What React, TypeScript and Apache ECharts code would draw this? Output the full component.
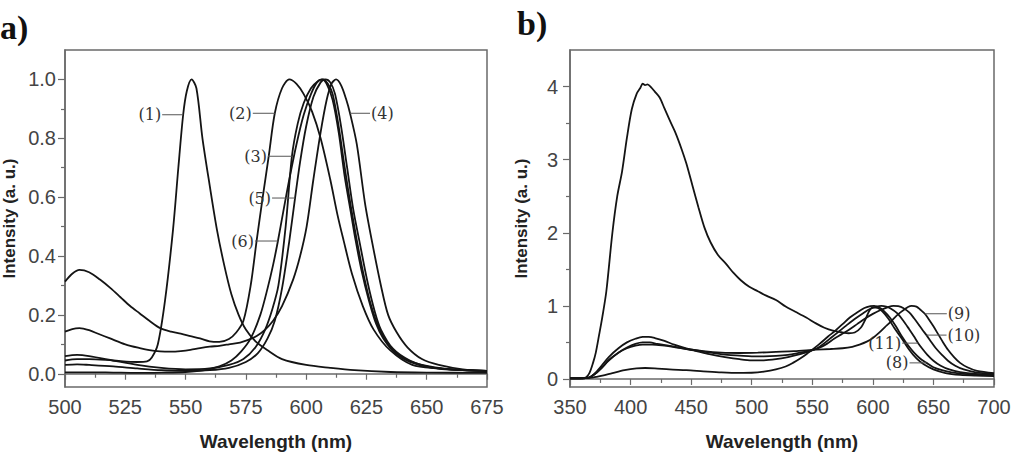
import React, { useEffect, useRef } from "react";
import * as echarts from "echarts";

type Pt = [number, number];

// ---- Panel a: normalized emission spectra, curves (1)-(6) ----
const specA1: Pt[] = [
  [500, 0.045], [505, 0.05], [510, 0.05], [520, 0.045], [530, 0.04], [534, 0.042], [536, 0.055],
  [538.5, 0.1], [541.5, 0.25], [544.8, 0.49], [547, 0.7], [549, 0.88], [550.5, 0.96], [552.5, 1.0],
  [554.5, 0.97], [557, 0.8], [560, 0.64], [563, 0.49], [566, 0.37], [569, 0.27], [572, 0.2],
  [575, 0.15], [579, 0.11], [584, 0.08], [590, 0.05], [600, 0.03], [610, 0.02], [620, 0.012],
  [635, 0.006], [650, 0.004], [675, 0.003],
];
const specA2: Pt[] = [
  [500, 0.313], [503, 0.34], [506, 0.353], [510, 0.345], [514.5, 0.32], [519, 0.29], [523, 0.26],
  [527, 0.23], [531, 0.205], [535, 0.18], [539.5, 0.155], [544, 0.143], [548, 0.136], [552, 0.128],
  [556, 0.12], [560, 0.11], [564, 0.108], [568, 0.118], [571, 0.14], [574, 0.18], [577, 0.3],
  [579.5, 0.454], [582, 0.6], [584.5, 0.74], [587, 0.885], [590, 0.97], [593, 1.0], [596, 0.985],
  [599, 0.95], [602.5, 0.89], [606, 0.8], [610, 0.66], [613, 0.54], [615.5, 0.454], [619, 0.34],
  [623.5, 0.23], [628, 0.15], [634.8, 0.08], [644, 0.03], [655, 0.018], [665, 0.012], [675, 0.01],
];
const specA3: Pt[] = [
  [500, 0.06], [505, 0.064], [510, 0.06], [520, 0.045], [530, 0.03], [540, 0.02], [550, 0.015],
  [560, 0.018], [568, 0.03], [574, 0.05], [579, 0.09], [583, 0.15], [586, 0.22], [588.5, 0.3],
  [591.5, 0.5], [594.1, 0.739], [596.5, 0.85], [599, 0.92], [602, 0.97], [605, 0.995], [607, 1.0],
  [609, 0.985], [611, 0.95], [613.5, 0.84], [616, 0.7], [618.5, 0.57], [621, 0.454], [624, 0.33],
  [627, 0.23], [630, 0.16], [634, 0.1], [640, 0.055], [648, 0.03], [660, 0.015], [675, 0.01],
];
const specA4: Pt[] = [
  [500, 0.143], [503, 0.152], [506, 0.155], [510, 0.148], [514, 0.135], [518.7, 0.12], [525, 0.1],
  [531, 0.087], [535, 0.08], [539.4, 0.076], [544, 0.075], [548, 0.077], [552, 0.081], [556, 0.087],
  [560, 0.092], [564, 0.095], [568, 0.1], [572.6, 0.106], [576, 0.115], [579.5, 0.128], [583, 0.15],
  [586.3, 0.18], [590, 0.23], [594.6, 0.32], [597.5, 0.4], [600.2, 0.5], [603, 0.66], [606, 0.82],
  [608.5, 0.93], [610.5, 0.985], [612.4, 1.0], [614.5, 0.98], [616.5, 0.935], [618.2, 0.885],
  [621, 0.78], [624.4, 0.58], [627.2, 0.454], [631, 0.3], [634, 0.2], [637.6, 0.14], [642, 0.09],
  [648, 0.05], [655, 0.03], [665, 0.015], [675, 0.01],
];
const specA5: Pt[] = [
  [500, 0.03], [505, 0.032], [510, 0.03], [520, 0.025], [530, 0.018], [540, 0.012], [550, 0.01],
  [560, 0.012], [568, 0.02], [575, 0.04], [580, 0.07], [584, 0.12], [587, 0.18], [590, 0.29],
  [593, 0.45], [595.4, 0.597], [597.5, 0.72], [600, 0.84], [603, 0.94], [606, 0.99], [608, 1.0],
  [610, 0.99], [612, 0.95], [614.5, 0.84], [617, 0.7], [619.5, 0.56], [622, 0.454], [625.5, 0.31],
  [628.5, 0.21], [631, 0.15], [636, 0.085], [643, 0.045], [652, 0.022], [665, 0.012], [675, 0.01],
];
const specA6: Pt[] = [
  [500, 0.005], [510, 0.005], [520, 0.004], [530, 0.003], [540, 0.004], [550, 0.006], [558, 0.012],
  [564, 0.025], [569, 0.045], [573, 0.075], [577, 0.12], [581, 0.2], [584, 0.29], [586.3, 0.37],
  [588.3, 0.451], [590.5, 0.55], [593, 0.66], [596, 0.78], [599, 0.88], [602, 0.95], [604.5, 0.99],
  [606.5, 1.0], [608.5, 0.985], [611, 0.93], [613.5, 0.82], [616, 0.67], [618.5, 0.55], [620.5, 0.454],
  [623, 0.35], [626, 0.25], [629, 0.17], [632, 0.12], [637, 0.07], [643, 0.04], [652, 0.02],
  [665, 0.012], [675, 0.01],
];

// ---- Panel b: emission spectra, unlabeled blue-emitting curve and (8)-(11) ----
const specB7: Pt[] = [
  [350, 0.01], [358, 0.01], [363, 0.02], [366, 0.08], [369, 0.22], [371.3, 0.36], [374, 0.6],
  [376.7, 0.85], [380, 1.2], [385, 2.0], [389, 2.5], [393, 2.84], [397, 3.3], [401, 3.69], [405, 3.9],
  [408, 3.98], [410, 4.04], [412, 4.02], [414, 4.03], [417, 3.99], [420, 3.93], [424, 3.85],
  [428, 3.7], [432, 3.55], [437, 3.37], [442, 3.15], [446, 2.95], [451, 2.65], [456, 2.35],
  [461, 2.07], [466, 1.87], [472, 1.7], [479, 1.57], [485, 1.45], [491, 1.35], [498, 1.26],
  [505, 1.2], [512, 1.14], [520, 1.08], [528, 0.99], [536, 0.92], [545, 0.84], [553, 0.76],
  [560, 0.7], [567, 0.66], [574, 0.64], [580, 0.625], [585, 0.635], [590, 0.7], [594, 0.82],
  [597, 0.93], [600, 0.98], [604, 0.97], [608, 0.92], [613, 0.82], [618, 0.69], [624, 0.55],
  [630, 0.4], [636, 0.28], [642, 0.2], [650, 0.13], [660, 0.08], [672, 0.055], [685, 0.045],
  [700, 0.04],
];
const specB8: Pt[] = [
  [350, 0.01], [360, 0.01], [366, 0.015], [372, 0.03], [376.7, 0.045], [385, 0.08], [395, 0.12],
  [405, 0.145], [412, 0.15], [420, 0.145], [432, 0.13], [446, 0.12], [460, 0.105], [475, 0.09],
  [490, 0.083], [500, 0.085], [510, 0.1], [520, 0.13], [528, 0.17], [534, 0.22], [540, 0.28],
  [546, 0.35], [550, 0.4], [556, 0.48], [563, 0.58], [569, 0.66], [575, 0.75], [581, 0.84],
  [587, 0.91], [593, 0.97], [598, 0.995], [601, 1.0], [605, 0.98], [609, 0.93], [614, 0.84],
  [619, 0.72], [624, 0.58], [629, 0.46], [634, 0.36], [639, 0.28], [644.3, 0.22], [650, 0.16],
  [657, 0.12], [665, 0.09], [675, 0.07], [688, 0.055], [700, 0.05],
];
const specB9: Pt[] = [
  [350, 0.01], [360, 0.01], [365, 0.015], [370, 0.06], [376, 0.15], [382, 0.26], [390, 0.36],
  [397, 0.42], [404, 0.455], [410, 0.47], [418, 0.47], [426, 0.46], [435, 0.44], [446, 0.41],
  [460, 0.38], [475, 0.36], [490, 0.355], [505, 0.36], [520, 0.37], [535, 0.38], [553, 0.4],
  [565, 0.41], [575, 0.42], [583, 0.44], [589, 0.47], [595, 0.51], [600, 0.56], [605, 0.63],
  [610, 0.71], [614, 0.77], [618, 0.84], [622, 0.9], [626, 0.95], [629, 0.985], [632, 1.0],
  [636, 0.99], [639, 0.95], [642.9, 0.892], [646, 0.82], [650, 0.72], [654, 0.61], [658, 0.5],
  [662, 0.4], [667, 0.3], [672, 0.22], [678, 0.16], [686, 0.11], [700, 0.08],
];
const specB10: Pt[] = [
  [350, 0.01], [360, 0.01], [365, 0.015], [370, 0.07], [376, 0.18], [382, 0.3], [390, 0.42],
  [397, 0.5], [404, 0.55], [410, 0.575], [415, 0.575], [420, 0.56], [428, 0.52], [436, 0.47],
  [446, 0.42], [458, 0.38], [470, 0.35], [480, 0.33], [490, 0.32], [500, 0.31], [510, 0.31],
  [520, 0.315], [530, 0.33], [540, 0.36], [548, 0.385], [555, 0.42], [562, 0.48], [568, 0.55],
  [574, 0.61], [580, 0.67], [587, 0.75], [594, 0.83], [600, 0.89], [606, 0.94], [612, 0.98],
  [617, 1.0], [621, 0.995], [625, 0.97], [630, 0.91], [634, 0.83], [638, 0.74], [641, 0.67],
  [644.3, 0.6], [648, 0.51], [652, 0.42], [657, 0.33], [662, 0.25], [668, 0.18], [675, 0.13],
  [685, 0.09], [700, 0.07],
];
const specB11: Pt[] = [
  [350, 0.01], [360, 0.01], [365, 0.015], [370, 0.06], [376, 0.15], [382, 0.25], [390, 0.36],
  [397, 0.43], [404, 0.48], [410, 0.5], [416, 0.5], [422, 0.48], [430, 0.46], [440, 0.43],
  [452, 0.39], [465, 0.34], [478, 0.3], [490, 0.27], [500, 0.255], [510, 0.255], [520, 0.27],
  [530, 0.3], [540, 0.34], [548, 0.38], [554, 0.42], [560, 0.49], [566, 0.57], [572, 0.65],
  [578, 0.73], [585, 0.82], [592, 0.9], [598, 0.96], [603, 0.99], [607, 1.0], [611, 0.99],
  [615, 0.96], [620, 0.9], [625, 0.8], [630, 0.68], [634, 0.58], [637.4, 0.49], [641, 0.41],
  [645, 0.33], [650, 0.25], [656, 0.18], [663, 0.13], [672, 0.095], [685, 0.07], [700, 0.06],
];

// Axis tick positions
const majorTicksA = [0, 0.2, 0.4, 0.6, 0.8, 1.0];
const minorTicksA = [0.1, 0.3, 0.5, 0.7, 0.9];
const majorTicksB = [0, 1, 2, 3, 4];
const minorTicksB = [0.5, 1.5, 2.5, 3.5];

// Curve labels: text, the point on the curve where the leader ends, side of the text, leader length
type Tag = { text: string; at: Pt; side: "left" | "right"; len: number };
const tagsA: Tag[] = [
  { text: "(1)", at: [549, 0.88], side: "left", len: 21 },
  { text: "(2)", at: [587, 0.885], side: "left", len: 22 },
  { text: "(4)", at: [618.2, 0.885], side: "right", len: 20 },
  { text: "(3)", at: [594.1, 0.739], side: "left", len: 24 },
  { text: "(5)", at: [595.4, 0.597], side: "left", len: 23 },
  { text: "(6)", at: [588.3, 0.451], side: "left", len: 23 },
];
const tagsB: Tag[] = [
  { text: "(9)", at: [642.9, 0.892], side: "right", len: 22 },
  { text: "(10)", at: [644.3, 0.6], side: "right", len: 20 },
  { text: "(11)", at: [637.4, 0.49], side: "left", len: 16 },
  { text: "(8)", at: [644.3, 0.22], side: "left", len: 17 },
];

const AXIS_COLOR = "#6a6a6a";
const LINE_COLOR = "#141414";
const SANS = "'Liberation Sans', Arial, sans-serif";
const SERIF_TAG = "'DejaVu Serif', serif";

function lineSeries(data: Pt[], axis: number, yAxis: number) {
  return {
    type: "line",
    data,
    xAxisIndex: axis,
    yAxisIndex: yAxis,
    showSymbol: false,
    smooth: 0.3,
    lineStyle: { color: LINE_COLOR, width: 1.8 },
    silent: true,
  };
}

function xAxisCfg(grid: number, min: number, max: number, interval: number) {
  return {
    type: "value",
    gridIndex: grid,
    min,
    max,
    interval,
    name: "Wavelength (nm)",
    nameLocation: "middle",
    nameGap: 45,
    nameTextStyle: { fontFamily: SANS, fontWeight: "bold", fontSize: 19, color: "#222" },
    axisLine: { show: true, lineStyle: { color: AXIS_COLOR, width: 1.5 } },
    axisTick: { show: true, inside: false, length: 6, lineStyle: { color: AXIS_COLOR, width: 1.2 } },
    minorTick: { show: true, splitNumber: 2, length: 4, lineStyle: { color: AXIS_COLOR, width: 1.2 } },
    axisLabel: { fontFamily: SANS, fontSize: 20, color: "#444", margin: 10 },
    splitLine: { show: false },
  };
}

function yAxisCfgs(grid: number, min: number, max: number, major: number[], minor: number[],
  digits: number, labelMargin: number, nameGap: number) {
  return [
    {
      type: "value",
      gridIndex: grid,
      position: "left",
      min,
      max,
      name: "Intensity (a. u.)",
      nameLocation: "middle",
      nameGap,
      nameTextStyle: { fontFamily: SANS, fontWeight: "bold", fontSize: 17, color: "#222" },
      axisLine: { show: true, lineStyle: { color: AXIS_COLOR, width: 1.5 } },
      axisTick: { show: true, inside: false, length: 7, customValues: major, lineStyle: { color: AXIS_COLOR, width: 1.2 } },
      axisLabel: {
        customValues: major,
        fontFamily: SANS,
        fontSize: 20,
        color: "#444",
        margin: labelMargin,
        formatter: (v: number) => v.toFixed(digits),
      },
      splitLine: { show: false },
    },
    {
      type: "value",
      gridIndex: grid,
      position: "left",
      min,
      max,
      axisLine: { show: false },
      axisTick: { show: true, inside: false, length: 4, customValues: minor, lineStyle: { color: AXIS_COLOR, width: 1.2 } },
      axisLabel: { show: false },
      splitLine: { show: false },
    },
  ];
}

export default function App() {
  const ref = useRef<HTMLDivElement>(null);

  useEffect(() => {
    if (!ref.current) return;
    const chart = echarts.init(ref.current, null, { renderer: "svg" });

    const gridStyle = { show: true, borderColor: AXIS_COLOR, borderWidth: 1.5, backgroundColor: "transparent" };

    chart.setOption({
      animation: false,
      backgroundColor: "#ffffff",
      grid: [
        { left: 65, top: 50, width: 422, height: 337, ...gridStyle },
        { left: 570, top: 50, width: 424, height: 341, ...gridStyle },
      ],
      xAxis: [xAxisCfg(0, 500, 675, 25), xAxisCfg(1, 350, 700, 50)],
      yAxis: [
        ...yAxisCfgs(0, -0.045, 1.1, majorTicksA, minorTicksA, 1, 9, 47),
        ...yAxisCfgs(1, -0.11, 4.5, majorTicksB, minorTicksB, 0, 12, 40),
      ],
      series: [
        lineSeries(specA1, 0, 0),
        lineSeries(specA2, 0, 0),
        lineSeries(specA3, 0, 0),
        lineSeries(specA4, 0, 0),
        lineSeries(specA5, 0, 0),
        lineSeries(specA6, 0, 0),
        lineSeries(specB7, 1, 2),
        lineSeries(specB8, 1, 2),
        lineSeries(specB9, 1, 2),
        lineSeries(specB10, 1, 2),
        lineSeries(specB11, 1, 2),
      ],
    });

    // Curve tags placed from data coordinates
    const tagGraphics: any[] = [];
    const addTags = (tags: Tag[], xIdx: number, yIdx: number) => {
      tags.forEach((t) => {
        const p = chart.convertToPixel({ xAxisIndex: xIdx, yAxisIndex: yIdx }, t.at) as number[];
        if (!p) return;
        const [px, py] = p;
        const x0 = t.side === "left" ? px - t.len : px;
        const x1 = t.side === "left" ? px : px + t.len;
        tagGraphics.push({
          type: "line",
          shape: { x1: x0, y1: py, x2: x1, y2: py },
          style: { stroke: "#555", lineWidth: 1 },
          z: 10,
        });
        tagGraphics.push({
          type: "text",
          x: t.side === "left" ? x0 - 1 : x1 + 1,
          y: py,
          style: {
            text: t.text,
            font: `16px ${SERIF_TAG}`,
            fill: "#333",
            align: t.side === "left" ? "right" : "left",
            verticalAlign: "middle",
          },
          z: 10,
        });
      });
    };
    addTags(tagsA, 0, 0);
    addTags(tagsB, 1, 2);

    chart.setOption({
      graphic: [
        {
          type: "text",
          left: 0,
          top: 10,
          style: { text: "a)", font: "bold 34px 'Liberation Serif', serif", fill: "#111" },
        },
        {
          type: "text",
          left: 517,
          top: 6,
          style: { text: "b)", font: "bold 34px 'Liberation Serif', serif", fill: "#111" },
        },
        ...tagGraphics,
      ],
    });

    return () => chart.dispose();
  }, []);

  return (
    <div
      ref={ref}
      style={{ position: "absolute", left: 0, top: 0, width: 1022, height: 456 }}
    />
  );
}
